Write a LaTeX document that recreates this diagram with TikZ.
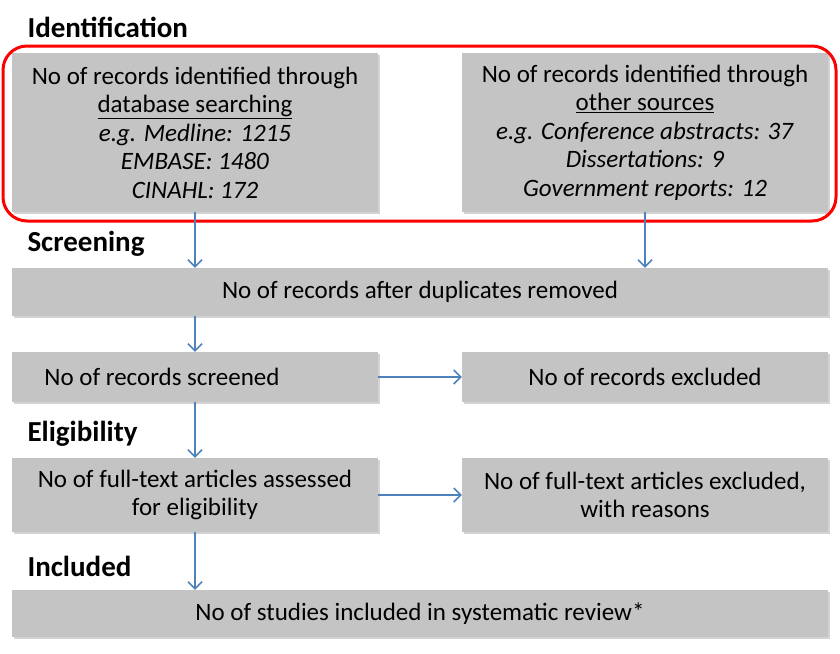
\documentclass[tikz,border=0pt]{standalone}
\usepackage{fontspec}
\setmainfont{Carlito}
\usetikzlibrary{arrows.meta,shadows}
\definecolor{arrowblue}{HTML}{4F81BD}
\definecolor{boxgray}{HTML}{C4C4C4}
\tikzset{
  box/.style={draw=none,fill=boxgray,drop shadow={shadow xshift=2pt,shadow yshift=-2pt,opacity=0.35},
    align=center,inner sep=0pt,font=\fontsize{25}{28.5}\selectfont},
  head/.style={anchor=west,font=\fontsize{29}{32}\selectfont\bfseries},
  flow/.style={draw=arrowblue,line width=1.5pt,-{Straight Barb[length=7pt,width=14pt]}}
}
\begin{document}
\begin{tikzpicture}[x=1pt,y=-1pt]
\useasboundingbox (0,0) rectangle (840,653);
% stage headings
\node[head] (hid) at (24,27) {Identification};
\node[head] (hsc) at (24,244) {Screening};
\node[head] (hel) at (24,434) {Eligibility};
\node[head] (hin) at (24,566) {Included};
% boxes
\node[box,minimum width=366,minimum height=159] (db) at (195,132.5) {No of records identified through\\\underline{database searching}\\\textit{e.g. Medline: 1215}\\\textit{EMBASE: 1480}\\\textit{CINAHL: 172}};
\node[box,minimum width=366,minimum height=159] (other) at (645,132.5) {No of records identified through\\\underline{other sources}\\\textit{e.g. Conference abstracts: 37}\\\textit{Dissertations: 9}\\\textit{Government reports: 12}};
\draw[red,line width=3pt,rounded corners=24] (3,46) rectangle (836,221);
\node[box,minimum width=816,minimum height=48] (dup) at (420,292) {No of records after duplicates removed};
\node[box,minimum width=366,minimum height=50] (scr) at (195,377) {\hspace*{-66pt}No of records screened};
\node[box,minimum width=366,minimum height=50] (exc) at (645,377) {No of records excluded};
\node[box,minimum width=366,minimum height=74] (full) at (195,495) {No of full-text articles assessed\\for eligibility};
\node[box,minimum width=366,minimum height=74] (fexc) at (645,495) {No of full-text articles excluded,\\with reasons};
\node[box,minimum width=816,minimum height=47] (inc) at (420,613.5) {No of studies included in systematic review*};
% connectors
\draw[flow] (db.south) -- (db.south |- dup.north);
\draw[flow] (other.south) -- (other.south |- dup.north);
\draw[flow] (db.south |- dup.south) -- (scr.north);
\draw[flow] (scr.south) -- (full.north);
\draw[flow] (full.south) -- (full.south |- inc.north);
\draw[flow] (scr.east) -- (exc.west);
\draw[flow] (full.east) -- (fexc.west);
\end{tikzpicture}
\end{document}
